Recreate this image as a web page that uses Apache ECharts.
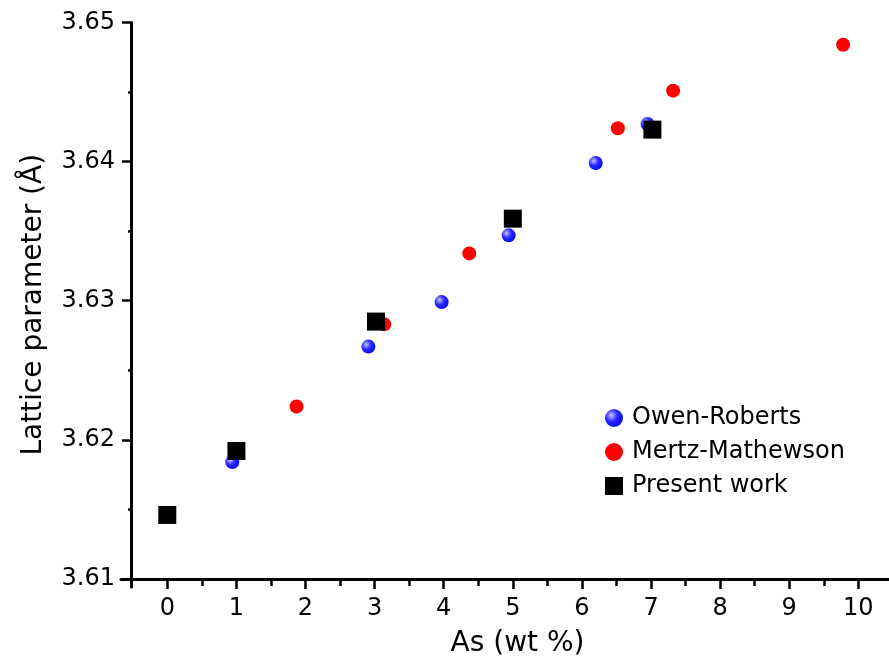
<!DOCTYPE html>
<html>
<head>
<meta charset="utf-8">
<script src="https://cdn.jsdelivr.net/npm/echarts@6/dist/echarts.min.js"></script>
<style>
  html, body { margin: 0; padding: 0; background: #fff; }
  #chart { width: 889px; height: 656px; }
</style>
</head>
<body>
<div id="chart"></div>
<script>
// Lattice parameter of Cu–As alloys versus arsenic content
const owenX = [0.94, 2.91, 3.97, 4.94, 6.20, 6.95];
const owenY = [3.6184, 3.6267, 3.6299, 3.6347, 3.6399, 3.6427];

const mertzX = [1.87, 3.14, 4.37, 6.52, 7.32, 9.78];
const mertzY = [3.6224, 3.6283, 3.6334, 3.6424, 3.6451, 3.6484];

const presentX = [0, 1, 3.02, 5.0, 7.02];
const presentY = [3.6146, 3.6192, 3.6285, 3.6359, 3.6423];

const xTicks = [0, 1, 2, 3, 4, 5, 6, 7, 8, 9, 10];
const xMinorTicks = [0.5, 1.5, 2.5, 3.5, 4.5, 5.5, 6.5, 7.5, 8.5, 9.5];
const yTicks = [3.61, 3.62, 3.63, 3.64, 3.65];
const yMinorTicks = [3.615, 3.625, 3.635, 3.645];

const seriesNames = ['Owen-Roberts', 'Mertz-Mathewson', 'Present work'];

const FONT = 'DejaVu Sans';
const X_MIN = -0.67, X_MAX = 10.444;
const Y_MIN = 3.60942, Y_MAX = 3.65;

const pairs = (xs, ys) => xs.map((x, i) => [x, ys[i]]);

const axisLineStyle = { color: '#000', width: 3 };
const tickLineStyle = { color: '#000', width: 2.5 };

const blueSphere = {
  type: 'radial', x: 0.35, y: 0.35, r: 0.75,
  colorStops: [
    { offset: 0, color: '#c4c4ff' },
    { offset: 0.45, color: '#2a2aff' },
    { offset: 1, color: '#0000ff' }
  ]
};

const chart = echarts.init(document.getElementById('chart'), null, { renderer: 'canvas' });

chart.setOption({
  animation: false,
  backgroundColor: '#ffffff',
  grid: { left: 121, right: 0, top: 22.5, bottom: 69, containLabel: false, outerBoundsMode: 'none' },
  legend: {
    orient: 'vertical',
    left: 600,
    top: 401,
    itemWidth: 18,
    itemHeight: 18,
    itemGap: 10,
    textStyle: { fontFamily: FONT, fontSize: 24, lineHeight: 24, color: '#000', padding: [0, 0, 0, 4] },
    data: [
      { name: seriesNames[0], icon: 'circle' },
      { name: seriesNames[1], icon: 'circle' },
      { name: seriesNames[2], icon: 'rect' }
    ]
  },
  xAxis: [
    {
      type: 'value',
      min: X_MIN, max: X_MAX,
      position: 'bottom',
      offset: -8,
      name: 'As (wt %)',
      nameLocation: 'middle',
      nameGap: 51,
      nameTextStyle: { fontFamily: FONT, fontSize: 28, color: '#000', padding: [0, 0, 0, 25] },
      axisLine: { show: true, onZero: false, lineStyle: axisLineStyle },
      axisTick: { show: true, customValues: xTicks, length: 10, lineStyle: tickLineStyle },
      axisLabel: {
        customValues: xTicks, margin: 18,
        fontFamily: FONT, fontSize: 24, color: '#000',
        formatter: v => String(Math.round(v))
      },
      splitLine: { show: false }
    },
    {
      type: 'value',
      min: X_MIN, max: X_MAX,
      position: 'bottom',
      offset: -8,
      axisLine: { show: false, onZero: false },
      axisTick: { show: true, customValues: xMinorTicks, length: 7, lineStyle: tickLineStyle },
      axisLabel: { show: false },
      splitLine: { show: false }
    }
  ],
  yAxis: [
    {
      type: 'value',
      min: Y_MIN, max: Y_MAX,
      position: 'left',
      offset: -10,
      name: 'Lattice parameter (Å)',
      nameLocation: 'middle',
      nameGap: 83,
      nameTextStyle: { fontFamily: FONT, fontSize: 28, color: '#000' },
      axisLine: { show: true, onZero: false, lineStyle: axisLineStyle },
      axisTick: { show: true, customValues: yTicks, length: 9, lineStyle: tickLineStyle },
      axisLabel: {
        customValues: yTicks, margin: 16,
        fontFamily: FONT, fontSize: 24, color: '#000',
        formatter: v => v.toFixed(2)
      },
      splitLine: { show: false }
    },
    {
      type: 'value',
      min: Y_MIN, max: Y_MAX,
      position: 'left',
      offset: -10,
      axisLine: { show: false, onZero: false },
      axisTick: { show: true, customValues: yMinorTicks, length: 3, lineStyle: tickLineStyle },
      axisLabel: { show: false },
      splitLine: { show: false }
    }
  ],
  series: [
    {
      name: seriesNames[0],
      type: 'scatter',
      symbol: 'circle',
      symbolSize: 14,
      itemStyle: { color: blueSphere, opacity: 1 },
      data: pairs(owenX, owenY),
      z: 2
    },
    {
      name: seriesNames[1],
      type: 'scatter',
      symbol: 'circle',
      symbolSize: 14,
      itemStyle: { color: '#ff0000', opacity: 1 },
      data: pairs(mertzX, mertzY),
      z: 3
    },
    {
      name: seriesNames[2],
      type: 'scatter',
      symbol: 'rect',
      symbolSize: 18,
      itemStyle: { color: '#000000', opacity: 1 },
      data: pairs(presentX, presentY),
      z: 4
    }
  ]
});
</script>
</body>
</html>
